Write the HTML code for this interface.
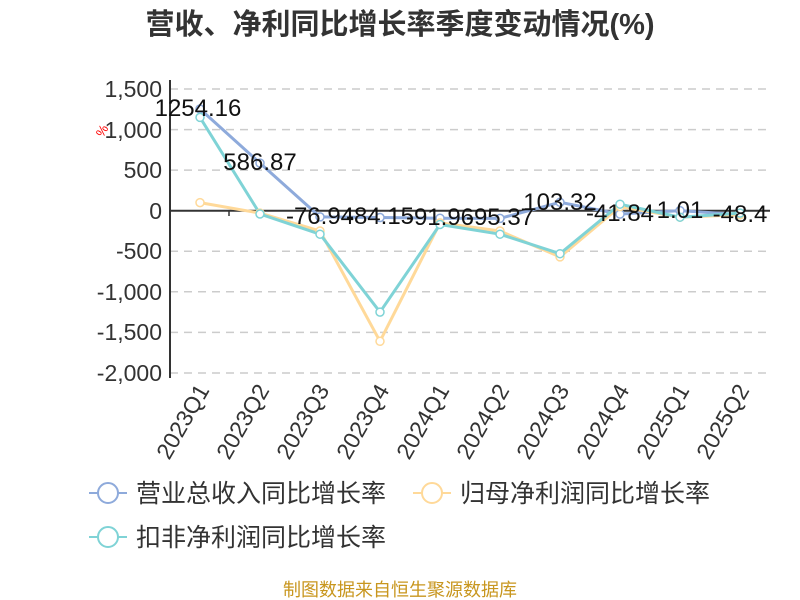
<!DOCTYPE html>
<html><head><meta charset="utf-8"><style>
body{margin:0;background:#fff;}
svg{display:block;font-family:"Liberation Sans","Noto Sans CJK SC",sans-serif;}
</style></head><body>
<svg width="800" height="600" viewBox="0 0 800 600">
<text x="400" y="34" text-anchor="middle" font-size="29" font-weight="bold" fill="#333">营收、净利同比增长率季度变动情况(%)</text>
<g stroke="#ccc" stroke-dasharray="8,6" stroke-width="1.5">
<line x1="170" x2="770" y1="89" y2="89"/><line x1="170" x2="770" y1="129.6" y2="129.6"/>
<line x1="170" x2="770" y1="170.1" y2="170.1"/><line x1="170" x2="770" y1="251.3" y2="251.3"/>
<line x1="170" x2="770" y1="291.8" y2="291.8"/><line x1="170" x2="770" y1="332.4" y2="332.4"/>
<line x1="170" x2="770" y1="373" y2="373"/>
</g>
<line x1="170" x2="170" y1="80" y2="378" stroke="#333" stroke-width="2"/>
<line x1="170" x2="770" y1="210.7" y2="210.7" stroke="#333" stroke-width="2"/>
<line x1="229" x2="229" y1="210.7" y2="216" stroke="#333" stroke-width="1.5"/>
<g font-size="23" fill="#333" text-anchor="end">
<text x="162" y="97">1,500</text><text x="162" y="138">1,000</text><text x="162" y="178">500</text>
<text x="162" y="219">0</text><text x="162" y="259">-500</text><text x="162" y="300">-1,000</text>
<text x="162" y="340">-1,500</text><text x="162" y="381">-2,000</text>
</g>
<text x="103" y="138" font-size="13" fill="red" transform="rotate(-60 103 138)">%</text>
<g font-size="23" fill="#333" text-anchor="end">
<text transform="translate(210,390) rotate(-60)">2023Q1</text>
<text transform="translate(270,390) rotate(-60)">2023Q2</text>
<text transform="translate(330,390) rotate(-60)">2023Q3</text>
<text transform="translate(390,390) rotate(-60)">2023Q4</text>
<text transform="translate(450,390) rotate(-60)">2024Q1</text>
<text transform="translate(510,390) rotate(-60)">2024Q2</text>
<text transform="translate(570,390) rotate(-60)">2024Q3</text>
<text transform="translate(630,390) rotate(-60)">2024Q4</text>
<text transform="translate(690,390) rotate(-60)">2025Q1</text>
<text transform="translate(750,390) rotate(-60)">2025Q2</text>
</g>
<g fill="none" stroke-width="3">
<polyline stroke="#8eaadb" points="200,109 260,163.1 320,216.9 380,217.5 440,218.2 500,218.4 560,202.3 620,214.1 680,210.6 740,214.6"/>
<polyline stroke="#ffd999" points="200,202.6 260,213.1 320,231 380,341.3 440,222.9 500,231 560,256.9 620,206.6 680,217.2 740,214.8"/>
<polyline stroke="#7fd3d6" points="200,117.4 260,214 320,234.2 380,312.1 440,224.5 500,234.2 560,253.7 620,204.2 680,217.2 740,213.1"/>
</g>
<g fill="#fff" stroke-width="1.5" stroke="#8eaadb">
<circle cx="200" cy="109" r="4"/><circle cx="260" cy="163.1" r="4"/><circle cx="320" cy="216.9" r="4"/><circle cx="380" cy="217.5" r="4"/><circle cx="440" cy="218.2" r="4"/><circle cx="500" cy="218.4" r="4"/><circle cx="560" cy="202.3" r="4"/><circle cx="620" cy="214.1" r="4"/><circle cx="680" cy="210.6" r="4"/><circle cx="740" cy="214.6" r="4"/>
</g>
<g fill="#fff" stroke-width="1.5" stroke="#ffd999">
<circle cx="200" cy="202.6" r="4"/><circle cx="260" cy="213.1" r="4"/><circle cx="320" cy="231" r="4"/><circle cx="380" cy="341.3" r="4"/><circle cx="440" cy="222.9" r="4"/><circle cx="500" cy="231" r="4"/><circle cx="560" cy="256.9" r="4"/><circle cx="620" cy="206.6" r="4"/><circle cx="680" cy="217.2" r="4"/><circle cx="740" cy="214.8" r="4"/>
</g>
<g fill="#fff" stroke-width="1.5" stroke="#7fd3d6">
<circle cx="200" cy="117.4" r="4"/><circle cx="260" cy="214" r="4"/><circle cx="320" cy="234.2" r="4"/><circle cx="380" cy="312.1" r="4"/><circle cx="440" cy="224.5" r="4"/><circle cx="500" cy="234.2" r="4"/><circle cx="560" cy="253.7" r="4"/><circle cx="620" cy="204.2" r="4"/><circle cx="680" cy="217.2" r="4"/><circle cx="740" cy="213.1" r="4"/>
</g>
<g font-size="24" fill="#111" text-anchor="middle">
<text x="198" y="116">1254.16</text><text x="260" y="170">586.87</text>
<text x="320" y="224">-76.94</text><text x="380" y="224">-84.15</text>
<text x="440" y="225">-91.96</text><text x="500" y="225">-95.37</text>
<text x="560" y="210">103.32</text><text x="620" y="221">-41.84</text>
<text x="680" y="218">1.01</text><text x="740" y="222">-48.4</text>
</g>
<g stroke-width="2" fill="#fff">
<line x1="89" x2="127" y1="493" y2="493" stroke="#8eaadb"/><circle cx="108" cy="493" r="10" stroke="#8eaadb"/>
<line x1="413" x2="451" y1="493" y2="493" stroke="#ffd999"/><circle cx="432" cy="493" r="10" stroke="#ffd999"/>
<line x1="89" x2="127" y1="537" y2="537" stroke="#7fd3d6"/><circle cx="108" cy="537" r="10" stroke="#7fd3d6"/>
</g>
<g font-size="25" fill="#333">
<text x="136" y="502">营业总收入同比增长率</text>
<text x="460" y="502">归母净利润同比增长率</text>
<text x="136" y="546">扣非净利润同比增长率</text>
</g>
<text x="400" y="596" text-anchor="middle" font-size="18" fill="#c8961e">制图数据来自恒生聚源数据库</text>
</svg>
</body></html>
